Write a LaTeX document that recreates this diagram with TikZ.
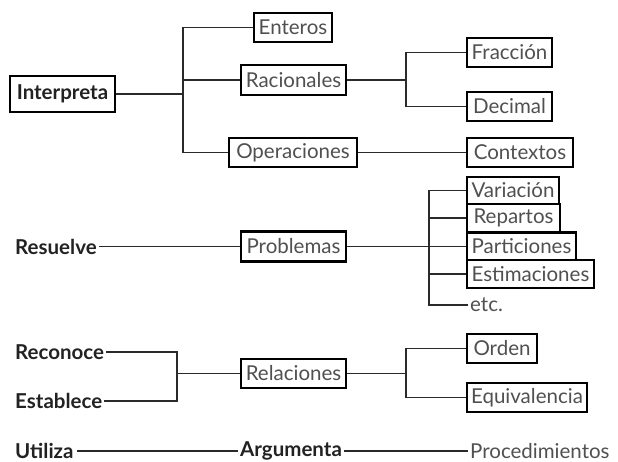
\documentclass[tikz,border=0pt]{standalone}
\usepackage{fontspec}
\setmainfont{Lato}
\definecolor{txtgray}{HTML}{505050}
\definecolor{verbcol}{HTML}{222222}
\definecolor{linecol}{HTML}{2A2A2A}
\newcommand{\fsz}{\fontsize{20.5}{21}\selectfont}
\begin{document}
\begin{tikzpicture}[x=1pt,y=-1pt,
  box/.style={draw=black, line width=2.8pt, inner sep=0pt, font=\fsz, text=txtgray, fill=white},
  plain/.style={inner sep=0pt, anchor=west, font=\fsz, text=txtgray},
  verb/.style={inner sep=0pt, anchor=west, font=\fsz\bfseries, text=verbcol},
  conn/.style={draw=linecol, line width=1.8pt}]
\useasboundingbox (0,0) rectangle (618,462);
% boxes
\node[box, minimum width=105, minimum height=36, text=verbcol, font=\fsz\bfseries] (interp) at (62.5,94) {Interpreta};
\node[box, minimum width=78, minimum height=29] (ent) at (293,27.5) {Enteros};
\node[box, minimum width=105, minimum height=30] (rac) at (293.5,80) {Racionales};
\node[box, minimum width=128, minimum height=29] (ope) at (293,152.5) {Operaciones};
\node[box, minimum width=85, minimum height=29] (fra) at (509.5,52.5) {Fracción};
\node[box, minimum width=85, minimum height=29] (dec) at (509.5,106.5) {Decimal};
\node[box, minimum width=106, minimum height=29] (con) at (520,152.5) {Contextos};
\node[box, minimum width=105, minimum height=30] (pro) at (293.5,246.5) {Problemas};
\node[box, minimum width=92, minimum height=27] (var) at (513,190.5) {Variación};
\node[box, minimum width=93, minimum height=28] (rep) at (513.5,218) {Repartos};
\node[box, minimum width=109, minimum height=28] (par) at (521.5,246.5) {Particiones};
\node[box, minimum width=127, minimum height=28] (est) at (530.5,274) {Estimaciones};
\node[box, minimum width=105, minimum height=29] (rel) at (293.5,373.5) {Relaciones};
\node[box, minimum width=70, minimum height=29] (ord) at (502,348.5) {Orden};
\node[box, minimum width=120, minimum height=29] (equ) at (527,397.5) {Equivalencia};
% plain texts
\node[verb] (res) at (15,246.5) {Resuelve};
\node[plain] (etc) at (470,305) {etc.};
\node[verb] (rec) at (15,352) {Reconoce};
\node[verb] (esta) at (15,401) {Establece};
\node[verb] (uti) at (15,451) {Utiliza};
\node[verb] (arg) at (240,451) {Argumenta};
\node[plain] (proc) at (470,451) {Procedimientos};
% junctions
\coordinate (j1) at (183,94);
\coordinate (j2) at (406,80);
\coordinate (j3) at (429,246.5);
\coordinate (j4) at (177,373.5);
\coordinate (j5) at (406,373.5);
% connectors
\draw[conn] (interp.east) -- (j1);
\draw[conn] (ent.west) -| (j1) |- (ope.west);
\draw[conn] (rac.west) -- (rac.west -| j1);
\draw[conn] (rac.east) -- (j2);
\draw[conn] (fra.west) -| (j2) |- (dec.west);
\draw[conn] (ope.east) -- (con.west);
\draw[conn] ([xshift=2pt]res.east) -- (pro.west);
\draw[conn] (pro.east) -- (par.west);
\draw[conn] (var.west) -| (j3) |- ([xshift=-2pt]etc.west);
\draw[conn] (rep.west) -- (rep.west -| j3);
\draw[conn] (est.west) -- (est.west -| j3);
\draw[conn] ([xshift=2pt]rec.east) -| (j4) |- ([xshift=2pt]esta.east);
\draw[conn] (j4) -- (rel.west);
\draw[conn] (rel.east) -- (j5);
\draw[conn] (ord.west) -| (j5) |- (equ.west);
\draw[conn] ([xshift=3pt]uti.east) -- ([xshift=-2pt]arg.west);
\draw[conn] ([xshift=2pt]arg.east) -- ([xshift=-2pt]proc.west);
\end{tikzpicture}
\end{document}
